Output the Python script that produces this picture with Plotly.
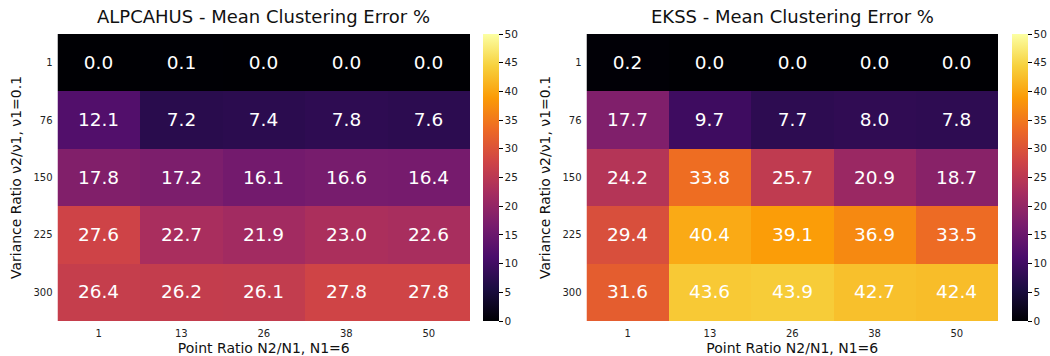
import plotly.graph_objects as go

# Grid axes
point_ratio = ["1", "13", "26", "38", "50"]          # N2/N1
variance_ratio = ["1", "76", "150", "225", "300"]    # v2/v1

# Mean clustering error (%) — rows follow variance_ratio, columns follow point_ratio
alpcahus_err = [
    [0.0, 0.1, 0.0, 0.0, 0.0],
    [12.1, 7.2, 7.4, 7.8, 7.6],
    [17.8, 17.2, 16.1, 16.6, 16.4],
    [27.6, 22.7, 21.9, 23.0, 22.6],
    [26.4, 26.2, 26.1, 27.8, 27.8],
]
ekss_err = [
    [0.2, 0.0, 0.0, 0.0, 0.0],
    [17.7, 9.7, 7.7, 8.0, 7.8],
    [24.2, 33.8, 25.7, 20.9, 18.7],
    [29.4, 40.4, 39.1, 36.9, 33.5],
    [31.6, 43.6, 43.9, 42.7, 42.4],
]

titles = ["ALPCAHUS - Mean Clustering Error %", "EKSS - Mean Clustering Error %"]
cb_ticks = list(range(0, 55, 5))

W, H = 1050, 356
FONT = "DejaVu Sans"

# Panel geometry in pixels
y_top, y_bot = 34, 321
panels = [
    dict(x0=57.5, x1=470, cb=482.5),
    dict(x0=586.5, x1=998, cb=1011.5),
]
cb_thick = 16

def px_x(v):
    return v / W

def px_y(v):
    return 1 - v / H

fig = go.Figure()

for i, (data, pan) in enumerate(zip([alpcahus_err, ekss_err], panels)):
    ax = "" if i == 0 else str(i + 1)
    fig.add_trace(go.Heatmap(
        z=data,
        x=point_ratio,
        y=variance_ratio,
        text=[[f"{v:.1f}" for v in row] for row in data],
        texttemplate="%{text}",
        textfont=dict(family=FONT, size=18.5, color="white"),
        colorscale="Inferno",
        zmin=0, zmax=50,
        xaxis="x" + ax, yaxis="y" + ax,
        xgap=0, ygap=0,
        hoverinfo="skip",
        colorbar=dict(
            x=px_x(pan["cb"]), xanchor="left",
            y=px_y(y_top), yanchor="top",
            len=(y_bot - y_top) / H, lenmode="fraction",
            thickness=cb_thick, thicknessmode="pixels",
            outlinewidth=0,
            tickvals=cb_ticks,
            ticks="outside", ticklen=4, tickwidth=1, tickcolor="black",
            tickfont=dict(family=FONT, size=10.5, color="#222"),
            xpad=0, ypad=0,
        ),
    ))
    fig.layout["xaxis" + ax] = dict(
        domain=[px_x(pan["x0"]), px_x(pan["x1"])],
        anchor="y" + ax,
        showgrid=False, zeroline=False, ticks="",
        ticklabelstandoff=5,
        tickfont=dict(family=FONT, size=10, color="#222"),
        title=dict(text="Point Ratio N2/N1, N1=6",
                   font=dict(family=FONT, size=14, color="#111"), standoff=5),
    )
    fig.layout["yaxis" + ax] = dict(
        domain=[px_y(y_bot), px_y(y_top)],
        anchor="x" + ax,
        autorange="reversed",
        showgrid=False, zeroline=False, ticks="",
        ticklabelstandoff=4,
        tickfont=dict(family=FONT, size=10, color="#222"),
        title=dict(text="Variance Ratio ν2/ν1, ν1=0.1",
                   font=dict(family=FONT, size=14, color="#111"), standoff=8),
    )
    fig.add_annotation(
        text=titles[i], xref="paper", yref="paper",
        x=px_x((pan["x0"] + pan["x1"]) / 2), y=px_y(16),
        xanchor="center", yanchor="middle", showarrow=False,
        font=dict(family=FONT, size=18, color="#111"),
    )
    # colorbar spine on the tick side
    xs = px_x(pan["cb"] + cb_thick)
    fig.add_shape(type="line", xref="paper", yref="paper",
                  x0=xs, x1=xs, y0=px_y(y_bot), y1=px_y(y_top),
                  line=dict(color="black", width=1))

fig.update_layout(
    width=W, height=H,
    margin=dict(l=0, r=0, t=0, b=0),
    paper_bgcolor="white", plot_bgcolor="white",
    font=dict(family=FONT),
    showlegend=False,
)

fig.write_html("out.html")
